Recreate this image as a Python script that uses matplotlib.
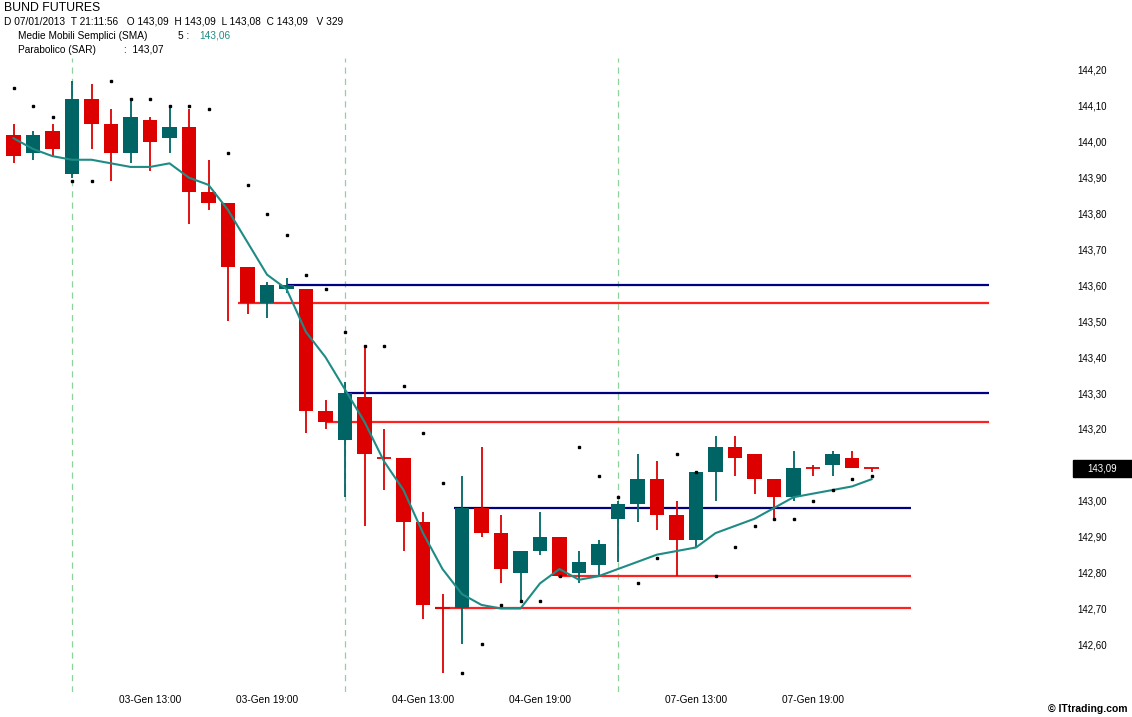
import numpy as np
import matplotlib
matplotlib.use("Agg")
import matplotlib.pyplot as plt
from matplotlib.patches import Rectangle
import matplotlib.transforms as mtransforms

# hourly candles, BUND futures 03-07 Jan 2013
opens = [144.02, 143.97, 144.03, 143.91, 144.12, 144.05, 143.97, 144.06, 144.01, 144.04,
         143.86, 143.83, 143.65, 143.55, 143.59, 143.59, 143.25, 143.17, 143.29, 143.12,
         143.12, 142.94, 142.70, 142.70, 142.98, 142.91, 142.80, 142.86, 142.90, 142.80,
         142.82, 142.95, 142.99, 143.06, 142.96, 142.89, 143.08, 143.15, 143.13, 143.06,
         143.01, 143.09, 143.10, 143.12, 143.09]
highs = [144.05, 144.03, 144.05, 144.17, 144.16, 144.09, 144.12, 144.07, 144.10, 144.09,
         143.95, 143.83, 143.65, 143.61, 143.62, 143.59, 143.28, 143.33, 143.43, 143.20,
         143.12, 142.97, 142.74, 143.07, 143.15, 142.96, 142.86, 142.97, 142.90, 142.86,
         142.89, 143.00, 143.13, 143.11, 143.00, 143.08, 143.18, 143.18, 143.13, 143.06,
         143.14, 143.10, 143.14, 143.14, 143.09]
lows = [143.94, 143.95, 143.96, 143.90, 143.98, 143.89, 143.94, 143.92, 143.97, 143.77,
        143.81, 143.50, 143.52, 143.51, 143.58, 143.19, 143.20, 143.01, 142.93, 143.03,
        142.86, 142.67, 142.52, 142.60, 142.90, 142.77, 142.72, 142.85, 142.79, 142.77,
        142.79, 142.83, 142.94, 142.92, 142.79, 142.87, 143.00, 143.07, 143.02, 142.95,
        143.00, 143.07, 143.07, 143.09, 143.08]
closes = [143.96, 144.02, 143.98, 144.12, 144.05, 143.97, 144.07, 144.00, 144.04, 143.86,
          143.83, 143.65, 143.55, 143.60, 143.60, 143.25, 143.22, 143.30, 143.13, 143.12,
          142.94, 142.71, 142.70, 142.98, 142.91, 142.81, 142.86, 142.90, 142.79, 142.83,
          142.88, 142.99, 143.06, 142.96, 142.89, 143.08, 143.15, 143.12, 143.06, 143.01,
          143.09, 143.09, 143.13, 143.09, 143.09]
bearish = [1, 0, 1, 0, 1, 1, 0, 1, 0, 1,
           1, 1, 1, 0, 0, 1, 1, 0, 1, 1,
           1, 1, 1, 0, 1, 1, 0, 0, 1, 0,
           0, 0, 0, 1, 1, 0, 0, 1, 1, 1,
           0, 1, 0, 1, 1]

sma5 = [144.01, 143.98, 143.96, 143.95, 143.95, 143.94, 143.93, 143.93, 143.94, 143.90,
        143.88, 143.81, 143.72, 143.63, 143.59, 143.47, 143.40, 143.31, 143.22, 143.11,
        143.03, 142.91, 142.81, 142.74, 142.71, 142.70, 142.70, 142.77, 142.81, 142.78,
        142.79, 142.81, 142.83, 142.85, 142.86, 142.87, 142.91, 142.93, 142.95, 142.98,
        143.01, 143.02, 143.03, 143.04, 143.06]
sar = [144.15, 144.10, 144.07, 143.89, 143.89, 144.17, 144.12, 144.12, 144.10, 144.10,
       144.09, 143.97, 143.88, 143.80, 143.74, 143.63, 143.59, 143.47, 143.43, 143.43,
       143.32, 143.19, 143.05, 142.52, 142.60, 142.71, 142.72, 142.72, 142.79, 143.15,
       143.07, 143.01, 142.77, 142.84, 143.13, 143.08, 142.79, 142.87, 142.93, 142.95,
       142.95, 143.00, 143.03, 143.06, 143.07]

# support / resistance lines: (price, start candle, end candle, colour)
level_prices = [143.60, 143.55, 143.30, 143.22, 142.98, 142.79, 142.70]
level_start = [14, 11.5, 17, 16, 22.6, 27.9, 21.6]
level_end = [50, 50, 50, 50, 46, 46, 46]
level_kind = ['blue', 'red', 'blue', 'red', 'blue', 'red', 'red']

day_starts = [3, 17, 31]
date_ticks = [7, 13, 21, 27, 35, 41]
date_labels = ['03-Gen 13:00', '03-Gen 19:00', '04-Gen 13:00', '04-Gen 19:00',
               '07-Gen 13:00', '07-Gen 19:00']
# 143,10 is hidden behind the last-price box
price_ticks = [142.60, 142.70, 142.80, 142.90, 143.00, 143.20, 143.30, 143.40,
               143.50, 143.60, 143.70, 143.80, 143.90, 144.00, 144.10, 144.20]

RED = '#dd0000'
TEAL = '#006464'
SMA_C = '#1e8c85'
NAVY = '#000080'
LRED = '#ff2020'

plt.rcParams['font.family'] = ['Liberation Sans', 'DejaVu Sans']

W, H = 1132, 717
fig = plt.figure(figsize=(W / 100, H / 100), dpi=100)
ax_left, ax_right, ax_top, ax_bot = 0, 1050, 58, 692
ax = fig.add_axes([ax_left / W, 1 - ax_bot / H, (ax_right - ax_left) / W, (ax_bot - ax_top) / H])

px_per_candle = 19.5
x0 = 13.5
ax.set_xlim((ax_left - x0) / px_per_candle, (ax_right - x0) / px_per_candle)
ax.set_ylim(144.20 - (ax_bot - 70) / 359, 144.20 + (70 - ax_top) / 359)

for d in day_starts:
    ax.axvline(d, color='#8fd39c', lw=0.9, ls=(0, (5, 4)), zorder=1)

for p, s, e, k in zip(level_prices, level_start, level_end, level_kind):
    ax.hlines(p, s, e, color=NAVY if k == 'blue' else LRED, lw=1.6, zorder=2)

idx = np.arange(len(opens))
bw = 0.75
for i in idx:
    col = RED if bearish[i] else TEAL
    ax.vlines(i, lows[i], highs[i], color=col, lw=1.3, zorder=3)
    lo, hi = min(opens[i], closes[i]), max(opens[i], closes[i])
    if hi - lo < 0.005:
        ax.hlines(opens[i], i - bw / 2, i + bw / 2, color=col, lw=1.3, zorder=3)
    else:
        ax.bar(i, hi - lo, bottom=lo, width=bw, color=col, lw=0, zorder=3)

ax.plot(idx, sma5, color=SMA_C, lw=1.5, zorder=4)
ax.plot(idx, sar, ls='none', marker='s', ms=2.0, color='black', zorder=5)

for sp in ax.spines.values():
    sp.set_visible(False)
ax.set_xticks(date_ticks)
ax.set_xticklabels(date_labels, fontsize=7.3)
ax.yaxis.tick_right()
ax.set_yticks(price_ticks)
ax.set_yticklabels([f'{v:.2f}'.replace('.', ',') for v in price_ticks], fontsize=7)
ax.tick_params(axis='x', length=0, pad=2.5)
ax.tick_params(axis='y', length=0, pad=19.5)
for lab in ax.get_yticklabels():
    lab.set_horizontalalignment('left')

# last price box on the price scale
tr = mtransforms.blended_transform_factory(ax.transAxes, ax.transData)
last = closes[-1]
ax.add_patch(Rectangle((1073 / 1050, last - 8.5 / 359), 60 / 1050, 17 / 359,
                       transform=tr, color='black', clip_on=False, zorder=6))
ax.text(1102 / 1050, last, f'{last:.2f}'.replace('.', ','), transform=tr, color='white',
        fontsize=7, ha='center', va='center', zorder=7, clip_on=False)

# header
fig.text(4 / W, 1 - 8 / H, 'BUND FUTURES', fontsize=8.8, va='center')
fig.text(4 / W, 1 - 22 / H,
         'D 07/01/2013  T 21:11:56   O 143,09  H 143,09  L 143,08  C 143,09   V 329',
         fontsize=7.3, va='center')
fig.text(18 / W, 1 - 36 / H, 'Medie Mobili Semplici (SMA)', fontsize=7.3, va='center')
fig.text(178 / W, 1 - 36 / H, '5 :', fontsize=7.3, va='center')
fig.text(199 / W, 1 - 36 / H, '143,06', fontsize=7.3, va='center', color=SMA_C)
fig.text(18 / W, 1 - 50 / H, 'Parabolico (SAR)', fontsize=7.3, va='center')
fig.text(124 / W, 1 - 50 / H, ':  143,07', fontsize=7.3, va='center')
fig.text(1127 / W, 1 - 709 / H, '\u00a9 ITtrading.com', fontsize=7.5, fontweight='bold',
         ha='right', va='center')

fig.savefig('out.png', dpi=100)
